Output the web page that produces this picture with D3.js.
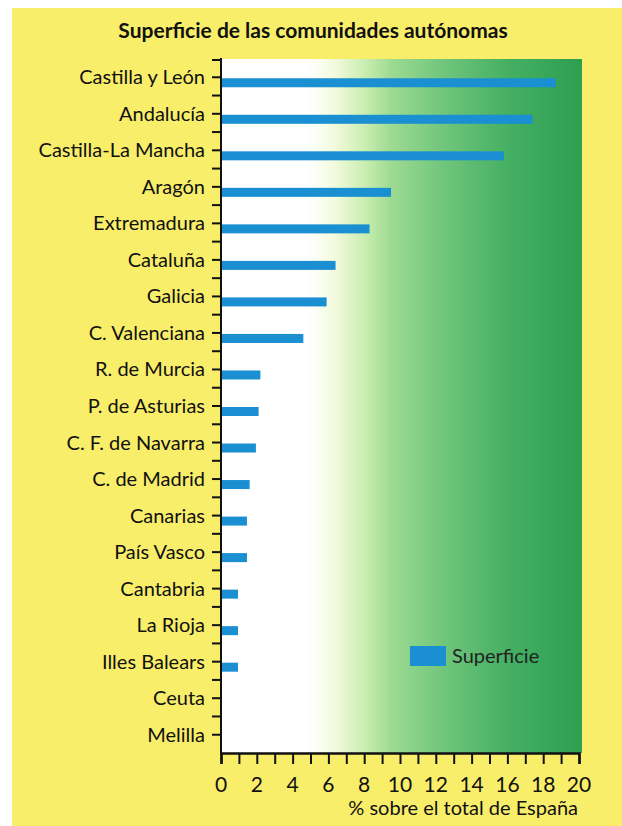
<!DOCTYPE html>
<html>
<head>
<meta charset="utf-8">
<script src="https://cdn.jsdelivr.net/npm/d3@7"></script>
<style>
  body { margin: 0; background: #ffffff; }
  svg { display: block; font-family: "Lato", "Open Sans", sans-serif; }
  .catLabel { font-size: 20px; fill: #111; }
  .tickLabel { font-size: 21px; fill: #111; }
</style>
</head>
<body>
<div id="chart"></div>
<script>
// Categories (top to bottom) and their share of Spain's total area (%)
var regions = ["Castilla y León", "Andalucía", "Castilla-La Mancha", "Aragón", "Extremadura",
  "Cataluña", "Galicia", "C. Valenciana", "R. de Murcia", "P. de Asturias", "C. F. de Navarra",
  "C. de Madrid", "Canarias", "País Vasco", "Cantabria", "La Rioja", "Illes Balears", "Ceuta", "Melilla"];
var superficie = [18.7, 17.4, 15.8, 9.5, 8.3, 6.4, 5.9, 4.6, 2.2, 2.1, 1.95, 1.6, 1.45, 1.45, 0.95, 0.95, 0.95, 0, 0];
var xTickLabels = [0, 2, 4, 6, 8, 10, 12, 14, 16, 18, 20];

var svgWidth = 622;
var svgHeight = 826;

var svg = d3.select("#chart")
  .append("svg")
  .attr("width", svgWidth)
  .attr("height", svgHeight);

// yellow page panel
svg.append("rect")
  .attr("x", 12).attr("y", 8)
  .attr("width", svgWidth - 12).attr("height", svgHeight - 8)
  .attr("fill", "#f8ee6a");

// scales
var xScale = d3.scaleLinear().domain([0, 20]).range([221, 579]);
var yScale = d3.scaleBand().domain(regions).range([59, 753]).paddingInner(0).paddingOuter(0);
var step = yScale.step();
function yMid(d) { return yScale(d) + step / 2; }

// plot background gradient (white -> green)
var defs = svg.append("defs");
var grad = defs.append("linearGradient")
  .attr("id", "bgGrad")
  .attr("x1", "0%").attr("x2", "100%").attr("y1", "0%").attr("y2", "0%");
[[0, "#ffffff"], [0.24, "#ffffff"], [0.31, "#f4fbdf"], [0.4, "#c9edb0"], [0.47, "#9edb92"],
 [0.62, "#6fc57b"], [0.8, "#44af62"], [1, "#2e9e51"]].forEach(function(s) {
  grad.append("stop").attr("offset", s[0]).attr("stop-color", s[1]);
});

var plotRight = xScale(20) + 3;
svg.append("rect")
  .attr("x", xScale(0)).attr("y", 59)
  .attr("width", plotRight - xScale(0)).attr("height", 753 - 59)
  .attr("fill", "url(#bgGrad)");

// bars
svg.selectAll(".bar")
  .data(regions)
  .enter()
  .append("rect")
  .attr("class", "bar")
  .attr("x", xScale(0))
  .attr("y", d => yMid(d) + 1)
  .attr("width", (d, i) => xScale(superficie[i]) - xScale(0))
  .attr("height", 9)
  .attr("fill", "#1a8fd2");

// y axis line with major (label) and minor ticks
var axisColor = "#111";
svg.append("line")
  .attr("x1", xScale(0)).attr("x2", xScale(0))
  .attr("y1", 58).attr("y2", 754)
  .attr("stroke", axisColor).attr("stroke-width", 2);

svg.selectAll(".majorTick")
  .data(regions)
  .enter()
  .append("line")
  .attr("x1", xScale(0) - 9).attr("x2", xScale(0))
  .attr("y1", d => yMid(d)).attr("y2", d => yMid(d))
  .attr("stroke", axisColor).attr("stroke-width", 2);

svg.selectAll(".minorTick")
  .data(regions.slice(1))
  .enter()
  .append("line")
  .attr("x1", xScale(0) - 9).attr("x2", xScale(0))
  .attr("y1", d => yScale(d)).attr("y2", d => yScale(d))
  .attr("stroke", axisColor).attr("stroke-width", 2);

svg.append("line")
  .attr("x1", xScale(0) - 9).attr("x2", xScale(0))
  .attr("y1", 60).attr("y2", 60)
  .attr("stroke", axisColor).attr("stroke-width", 2);

svg.selectAll(".catLabel")
  .data(regions)
  .enter()
  .append("text")
  .attr("class", "catLabel")
  .attr("text-anchor", "end")
  .attr("x", 205)
  .attr("y", d => yMid(d) + 7)
  .text(d => d);

// x axis
var xAxis = d3.axisBottom(xScale)
  .ticks(20)
  .tickSize(11)
  .tickFormat("");

var xAxisG = svg.append("g")
  .attr("transform", "translate(0, 753)")
  .call(xAxis);
xAxisG.select(".domain").attr("stroke", axisColor).attr("stroke-width", 2.5);
xAxisG.selectAll(".tick line").attr("stroke", axisColor).attr("stroke-width", 2);

svg.selectAll(".tickLabel")
  .data(xTickLabels)
  .enter()
  .append("text")
  .attr("class", "tickLabel")
  .attr("text-anchor", "middle")
  .attr("x", d => xScale(d))
  .attr("y", 792)
  .text(d => d);

svg.append("text")
  .attr("x", plotRight - 4)
  .attr("y", 815)
  .attr("text-anchor", "end")
  .attr("font-size", 20)
  .attr("fill", "#111")
  .text("% sobre el total de España");

// title
svg.append("text")
  .attr("x", 313)
  .attr("y", 38)
  .attr("text-anchor", "middle")
  .attr("font-size", 21)
  .attr("font-weight", "bold")
  .attr("fill", "#111")
  .text("Superficie de las comunidades autónomas");

// legend
svg.append("rect")
  .attr("x", 410).attr("y", 646)
  .attr("width", 36).attr("height", 20)
  .attr("fill", "#1a8fd2");
svg.append("text")
  .attr("x", 452).attr("y", 663)
  .attr("font-size", 20)
  .attr("fill", "#222")
  .text("Superficie");
</script>
</body>
</html>
